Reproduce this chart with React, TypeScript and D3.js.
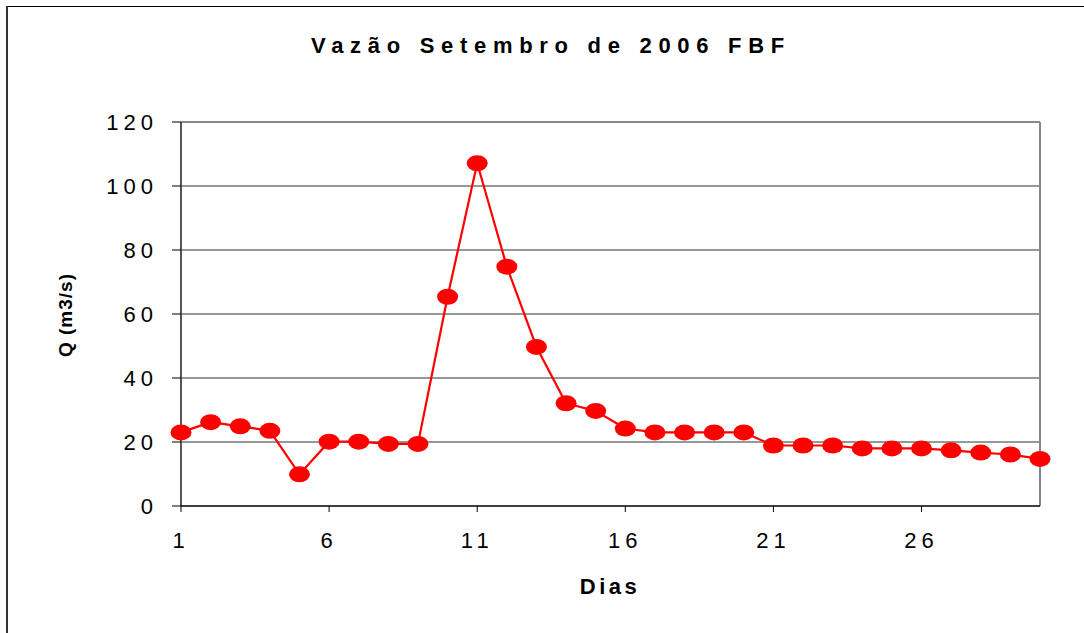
import React from "react";
import * as d3 from "d3";

const days: number[] = Array.from({ length: 30 }, (_, i) => i + 1);
const flow: number[] = [
  23.0, 26.2, 24.9, 23.5, 9.9, 20.1, 20.1, 19.4, 19.4, 65.4,
  107.1, 74.8, 49.7, 32.1, 29.7, 24.2, 23.0, 23.0, 23.0, 23.0,
  18.9, 18.9, 18.9, 18.0, 18.0, 18.0, 17.4, 16.7, 16.1, 14.7,
];
const yTicks: number[] = [0, 20, 40, 60, 80, 100, 120];
const xTicks: number[] = [1, 6, 11, 16, 21, 26];
const title = "Vazão Setembro de 2006 FBF";
const xLabel = "Dias";
const yLabel = "Q (m3/s)";

const W = 1084;
const H = 633;
const plot = { left: 181, right: 1040, top: 122, bottom: 506 };

export default function App() {
  const x = d3.scaleLinear().domain([1, 30]).range([plot.left, plot.right]);
  const y = d3.scaleLinear().domain([0, 120]).range([plot.bottom, plot.top]);
  const line = d3
    .line<number>()
    .x((_, i) => x(days[i]))
    .y((d) => y(d));
  const font = "Arial, 'Liberation Sans', sans-serif";

  return (
    <svg
      width={W}
      height={H}
      style={{ position: "absolute", left: 0, top: 0, background: "#fff" }}
      fontFamily={font}
    >
      {/* outer frame */}
      <line x1={7} y1={6.5} x2={W} y2={6.5} stroke="#000" strokeWidth={1} />
      <line x1={7} y1={6} x2={7} y2={H} stroke="#333" strokeWidth={2} />

      {/* title */}
      <text x={311} y={53} textAnchor="start" fontSize={22} fontWeight="bold" letterSpacing={6.7}>
        {title}
      </text>

      {/* gridlines */}
      {yTicks
        .filter((t) => t > 0 && t < 120)
        .map((t) => (
          <line
            key={t}
            x1={plot.left}
            x2={plot.right}
            y1={y(t)}
            y2={y(t)}
            stroke="#333"
            strokeWidth={1.2}
          />
        ))}

      {/* plot frame top/right */}
      <line x1={plot.left} x2={plot.right} y1={plot.top} y2={plot.top} stroke="#888" strokeWidth={2} />
      <line x1={plot.right} x2={plot.right} y1={plot.top} y2={plot.bottom} stroke="#888" strokeWidth={2} />

      {/* y axis */}
      <line x1={plot.left} x2={plot.left} y1={plot.top} y2={plot.bottom} stroke="#555" strokeWidth={2} />
      {yTicks.map((t) => (
        <g key={t}>
          <line x1={plot.left - 9} x2={plot.left} y1={y(t)} y2={y(t)} stroke="#000" strokeWidth={1} />
          <text x={158} y={y(t) + 8} textAnchor="end" fontSize={22} letterSpacing={5}>
            {t}
          </text>
        </g>
      ))}

      {/* x axis */}
      <line x1={plot.left} x2={plot.right} y1={plot.bottom} y2={plot.bottom} stroke="#000" strokeWidth={1.5} />
      {xTicks.map((t) => (
        <g key={t}>
          <line x1={x(t)} x2={x(t)} y1={plot.bottom} y2={plot.bottom + 6} stroke="#000" strokeWidth={1} />
          <text x={x(t)} y={548} textAnchor="middle" fontSize={22} letterSpacing={5}>
            {t}
          </text>
        </g>
      ))}

      {/* axis labels */}
      <text x={610} y={594} textAnchor="middle" fontSize={22} fontWeight="bold" letterSpacing={3.5}>
        {xLabel}
      </text>
      <text
        transform={`translate(72,315) rotate(-90)`}
        textAnchor="middle"
        fontSize={19}
        fontWeight="bold"
        letterSpacing={1}
      >
        {yLabel}
      </text>

      {/* series */}
      <path d={line(flow) || ""} fill="none" stroke="#ff0000" strokeWidth={2.2} />
      {flow.map((v, i) => (
        <ellipse key={i} cx={x(days[i])} cy={y(v)} rx={10.5} ry={8} fill="#ff0000" />
      ))}
    </svg>
  );
}
